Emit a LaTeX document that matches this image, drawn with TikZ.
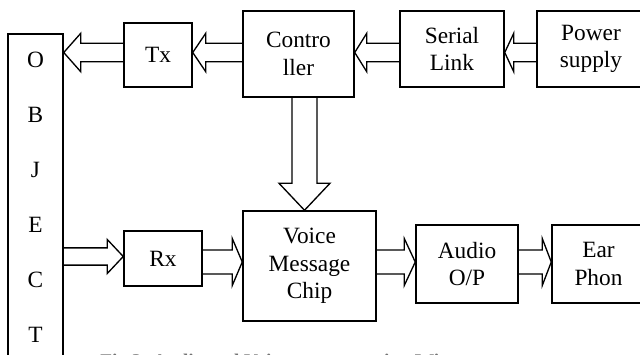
\documentclass[tikz,border=0pt]{standalone}
\usepackage{fontspec}
\setmainfont{Liberation Serif}
\usetikzlibrary{calc}

\tikzset{
  block/.style = {draw, line width=1.1pt, align=center, inner sep=0pt,
                  font=\fontsize{17.5}{20.5}\selectfont},
  barrow/.style = {line width=1pt, line join=miter},
}

% block arrow, horizontal: tail, tip, shaft half width, head half width, head length (px)
\newcommand{\harrow}[5]{%
  \draw[barrow] let \p1=(#1), \p2=(#2), \n1={sign(\x2-\x1)} in
    (\x1,{\y1+#3*0.75pt}) -- ({\x2-\n1*#5*0.75pt},{\y1+#3*0.75pt})
    -- ({\x2-\n1*#5*0.75pt},{\y1+#4*0.75pt}) -- (\x2,\y1)
    -- ({\x2-\n1*#5*0.75pt},{\y1-#4*0.75pt}) -- ({\x2-\n1*#5*0.75pt},{\y1-#3*0.75pt})
    -- (\x1,{\y1-#3*0.75pt});}
% same, vertical
\newcommand{\varrow}[5]{%
  \draw[barrow] let \p1=(#1), \p2=(#2), \n1={sign(\y2-\y1)} in
    ({\x1+#3*0.75pt},\y1) -- ({\x1+#3*0.75pt},{\y2-\n1*#5*0.75pt})
    -- ({\x1+#4*0.75pt},{\y2-\n1*#5*0.75pt}) -- (\x1,\y2)
    -- ({\x1-#4*0.75pt},{\y2-\n1*#5*0.75pt}) -- ({\x1-#3*0.75pt},{\y2-\n1*#5*0.75pt})
    -- ({\x1-#3*0.75pt},\y1);}

\begin{document}
\begin{tikzpicture}[x=0.75pt, y=-0.75pt]
    \useasboundingbox (0,0) rectangle (640,354);
    \clip (0,0) rectangle (640,354);

    % top row
    \node[block, minimum width=51pt, minimum height=48pt] (tx) at (158,55) {Tx};
    \node[block, minimum width=83.25pt, minimum height=64.5pt] (ctrl) at (298.5,54) {Contro\\ller};
    \node[block, minimum width=78pt, minimum height=57pt] (serial) at (452,49) {Serial\\Link};
    \node[block, minimum width=81pt, minimum height=57pt] (power) at (591,49) {Power\\supply};

    % object
    \node[block, minimum width=41.25pt, minimum height=244.5pt,
          font=\fontsize{17.5}{41.25}\selectfont] (obj) at (35.5,197) {O\\B\\J\\E\\C\\T};

    % bottom row
    \node[block, minimum width=58.5pt, minimum height=41.25pt] (rx) at (163,258.5) {Rx};
    \node[block, minimum width=99.75pt, minimum height=82.5pt] (voice) at (309.5,266) {Voice\\Message\\Chip};
    \node[block, minimum width=76.5pt, minimum height=58.5pt] (audio) at (467,264) {Audio\\O/P};
    \node[block, minimum width=69.75pt, minimum height=58.5pt] (ear) at (598.5,264) {Ear\\Phon};

    \coordinate (toprow) at (0,52.5);
    \coordinate (objrow) at (0,256.5);
    \coordinate (lowrow) at (0,262);
    \coordinate (down) at (304.5,0);

    \harrow{tx.west |- toprow}{obj.east |- toprow}{9.2}{19.2}{17}
    \harrow{ctrl.west |- toprow}{tx.east |- toprow}{9.2}{19.2}{13}
    \harrow{serial.west |- toprow}{ctrl.east |- toprow}{9.2}{19.2}{12}
    \harrow{power.west |- toprow}{serial.east |- toprow}{9.2}{19.2}{9}

    \varrow{ctrl.south -| down}{voice.north -| down}{12.5}{25.5}{27}

    \harrow{obj.east |- objrow}{rx.west |- objrow}{8.6}{17}{16}
    \harrow{rx.east |- lowrow}{voice.west |- lowrow}{12}{23.5}{10}
    \harrow{voice.east |- lowrow}{audio.west |- lowrow}{12}{23.5}{11}
    \harrow{audio.east |- lowrow}{ear.west |- lowrow}{12}{23.5}{9}

    % caption, cut by the page edge
    \node[anchor=base west, inner sep=0pt, text=black!55,
          font=\bfseries\fontsize{14.5}{17}\selectfont] (cap) at (100,367)
          {Fig.3. Audio and Voice message using Wi};
\end{tikzpicture}
\end{document}
